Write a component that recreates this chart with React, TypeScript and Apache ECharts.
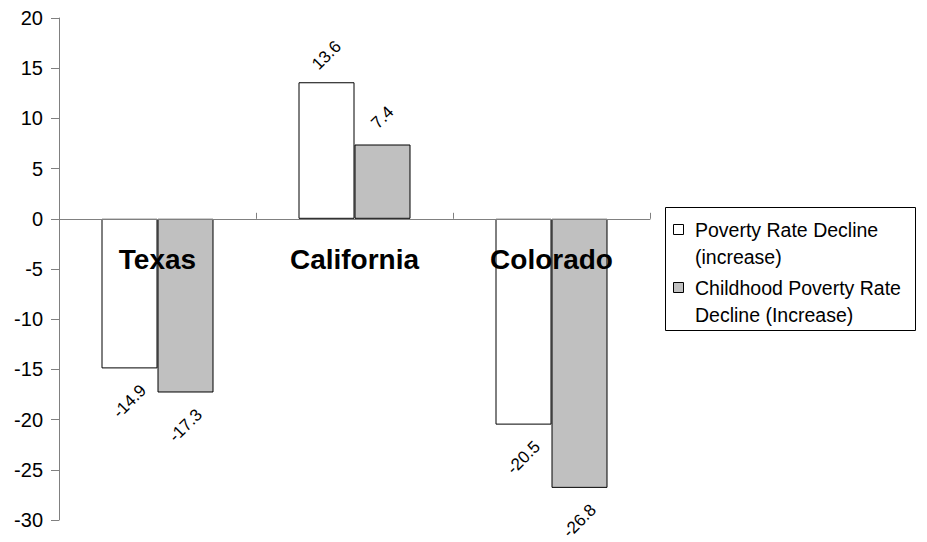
import React, { useEffect, useRef } from 'react';
import * as echarts from 'echarts';

const categories = ['Texas', 'California', 'Colorado'];
const povertyRateDecline = [-14.9, 13.6, -20.5];
const childhoodPovertyRateDecline = [-17.3, 7.4, -26.8];
const seriesNames = [
  'Poverty Rate Decline (increase)',
  'Childhood Poverty Rate Decline (Increase)',
];
const legendLines = [
  ['Poverty Rate Decline', '(increase)'],
  ['Childhood Poverty Rate', 'Decline (Increase)'],
];
const seriesColors = ['#FFFFFF', '#C0C0C0'];
const yMin = -30;
const yMax = 20;
const yInterval = 5;

const FONT = '"Liberation Sans", Arial, Helvetica, sans-serif';

const GRID_TOP = 18;
const GRID_BOTTOM_PX = 520;

export default function App() {
  const ref = useRef<HTMLDivElement>(null);

  useEffect(() => {
    document.body.style.margin = '0';
    const chart = echarts.init(ref.current!, null, { renderer: 'svg' });

    const makeData = (vals: number[]) =>
      vals.map((v) => ({ value: v, label: { distance: v >= 0 ? 27 : 33 } }));

    const barSeries = [povertyRateDecline, childhoodPovertyRateDecline].map((vals, i) => ({
      name: seriesNames[i],
      type: 'bar',
      data: makeData(vals),
      barWidth: 56,
      barGap: '0%',
      itemStyle: { color: seriesColors[i], borderColor: '#000', borderWidth: 1 },
      label: {
        show: true,
        position: 'outside',
        rotate: 45,
        align: 'center',
        verticalAlign: 'middle',
        fontSize: 17,
        color: '#000',
        fontFamily: FONT,
      },
    }));

    // zero line pixel (for placing the category labels just under the zero axis)
    const zeroY = GRID_TOP + ((yMax - 0) / (yMax - yMin)) * (GRID_BOTTOM_PX - GRID_TOP);

    const legendTop = [216, 274];
    const iconTop = [224, 282];
    const legendGraphics: any[] = [
      {
        type: 'rect',
        shape: { x: 665.5, y: 207.5, width: 250, height: 123 },
        style: { fill: '#fff', stroke: '#000', lineWidth: 1 },
        z: 10,
      },
    ];
    legendLines.forEach((lines, i) => {
      legendGraphics.push({
        type: 'rect',
        shape: { x: 673.5, y: iconTop[i] + 0.5, width: 10, height: 10 },
        style: { fill: seriesColors[i], stroke: '#000', lineWidth: 1 },
        z: 11,
      });
      legendGraphics.push({
        type: 'text',
        x: 695,
        y: legendTop[i],
        style: {
          text: lines.join('\n'),
          font: `19.5px ${FONT}`,
          fill: '#000',
          lineHeight: 27,
          verticalAlign: 'top',
          align: 'left',
        },
        z: 11,
      });
    });

    chart.setOption({
      animation: false,
      backgroundColor: '#fff',
      textStyle: { fontFamily: FONT },
      legend: { show: false },
      grid: {
        left: 59,
        right: 277,
        top: GRID_TOP,
        bottom: 542 - GRID_BOTTOM_PX,
        containLabel: false,
        outerBoundsMode: 'none',
      },
      xAxis: {
        type: 'category',
        data: categories,
        z: 3,
        axisLine: { onZero: true, lineStyle: { color: '#808080', width: 1 } },
        axisTick: {
          show: true,
          inside: true,
          length: 6,
          alignWithLabel: false,
          lineStyle: { color: '#808080' },
        },
        axisLabel: {
          interval: 0,
          fontSize: 28,
          fontWeight: 'bold',
          color: '#000',
          margin: -(GRID_BOTTOM_PX - zeroY) + 27,
          fontFamily: FONT,
        },
        splitLine: { show: false },
      },
      yAxis: {
        type: 'value',
        min: yMin,
        max: yMax,
        interval: yInterval,
        axisLine: { show: true, lineStyle: { color: '#808080', width: 1 } },
        axisTick: { show: true, length: 8, lineStyle: { color: '#808080' } },
        splitLine: { show: false },
        axisLabel: { fontSize: 20, color: '#000', margin: 16, fontFamily: FONT },
      },
      series: barSeries,
      graphic: legendGraphics,
    });

    return () => chart.dispose();
  }, []);

  return <div ref={ref} style={{ width: 927, height: 542 }} />;
}
